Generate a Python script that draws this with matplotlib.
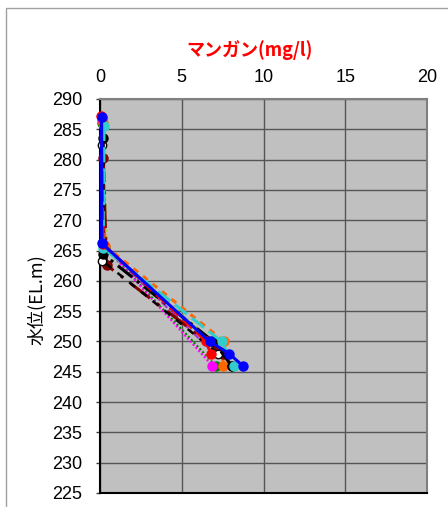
import matplotlib
matplotlib.use("Agg")
import matplotlib.pyplot as plt
from matplotlib.patches import Rectangle

plt.rcParams['font.family'] = ['Liberation Sans', 'Noto Sans CJK JP', 'DejaVu Sans']

# Manganese concentration profiles: (water level EL.m, mg/l)
series_levels = {
    "yellowgrn": [286.0, 265.5, 249.0],
    "purple":    [286.2, 265.7, 248.0],
    "green":     [286.0, 265.6, 246.0],
    "magenta":   [286.5, 265.9, 246.0],
    "orange":    [286.0, 265.8, 250.0, 246.0],
    "darkred":   [280.3, 262.6, 248.0, 246.0],
    "white":     [282.4, 263.3, 248.0],
    "black":     [283.5, 264.4, 250.0, 246.0],
    "cyan":      [285.6, 265.4, 250.0, 246.0],
    "red":       [287.2, 266.0, 250.0, 248.0],
    "blue":      [287.0, 266.2, 250.0, 248.0, 246.0],
}
series_values = {
    "yellowgrn": [0.20, 0.40, 7.30],
    "purple":    [0.15, 0.25, 7.00],
    "green":     [0.15, 0.30, 7.07],
    "magenta":   [0.10, 0.20, 6.87],
    "orange":    [0.20, 0.30, 7.60, 7.50],
    "darkred":   [0.20, 0.40, 7.50, 8.05],
    "white":     [0.15, 0.15, 7.24],
    "black":     [0.20, 0.20, 6.93, 8.05],
    "cyan":      [0.25, 0.20, 7.44, 8.20],
    "red":       [0.05, 0.20, 6.50, 6.77],
    "blue":      [0.10, 0.10, 6.70, 7.90, 8.72],
}

styles = {
    "blue":      dict(color="#0000ff", mfc="#0000ff", mec="#0000ff", ls="-", lw=2.2, ms=6.5),
    "red":       dict(color="#ff0000", mfc="#ff0000", mec="#ff0000", ls=(0, (4, 2)), lw=2.2, ms=6.5),
    "black":     dict(color="#000000", mfc="#000000", mec="#000000", ls=(0, (6, 2, 1, 2)), lw=2.2, ms=6.5),
    "white":     dict(color="#000000", mfc="#ffffff", mec="#000000", ls=(0, (3, 3)), lw=1.8, ms=6.0),
    "darkred":   dict(color="#800000", mfc="#800000", mec="#800000", ls=(0, (8, 3, 1, 3)), lw=2.2, ms=6.5),
    "cyan":      dict(color="#33cccc", mfc="#33cccc", mec="#33cccc", ls=(0, (5, 2)), lw=2.2, ms=6.5),
    "orange":    dict(color="#ff6600", mfc="#ff6600", mec="#ff6600", ls=(0, (2, 2)), lw=2.2, ms=6.5),
    "magenta":   dict(color="#ff00ff", mfc="#ff00ff", mec="#ff00ff", ls=(0, (1, 1)), lw=1.5, ms=6.5),
    "green":     dict(color="#008000", mfc="#008000", mec="#008000", ls=(0, (1, 1)), lw=1.5, ms=6.5),
    "purple":    dict(color="#9933cc", mfc="#9933cc", mec="#9933cc", ls=(0, (4, 1, 1, 1)), lw=1.5, ms=2.5),
    "yellowgrn": dict(color="#99cc00", mfc="#99cc00", mec="#99cc00", ls=(0, (1, 2)), lw=1.5, ms=2.5),
}

x_ticks = [0, 5, 10, 15, 20]
y_ticks = list(range(225, 291, 5))

fig = plt.figure(figsize=(4.48, 5.07), dpi=100)
W, H = 448, 507

# outer chart-area border
fig.patches.append(Rectangle((6 / W, -0.1), 1.2, (507 - 8) / H + 0.1,
                             transform=fig.transFigure, fill=False,
                             edgecolor="#a0a0a0", lw=1.0))

ax = fig.add_axes([100 / W, 14 / H, 327 / W, 394 / H])
ax.set_facecolor("#c0c0c0")

for name in series_levels:
    st = styles[name]
    ax.plot(series_values[name], series_levels[name], color=st["color"],
            ls=st["ls"], lw=st["lw"], marker="o", markersize=st["ms"],
            markerfacecolor=st["mfc"], markeredgecolor=st["mec"],
            markeredgewidth=1.0, clip_on=False, zorder=3)

ax.set_xlim(0, 20)
ax.set_ylim(225, 290)
ax.set_xticks(x_ticks)
ax.set_yticks(y_ticks)
ax.xaxis.tick_top()
ax.tick_params(axis="x", length=0, pad=9, labelsize=13)
ax.tick_params(axis="y", length=3, width=1, color="#404040", direction="out",
               pad=10, labelsize=13)
ax.grid(True, color="#555555", lw=1.0)
ax.set_axisbelow(True)

for side in ("left", "bottom"):
    ax.spines[side].set_color("#000000")
    ax.spines[side].set_linewidth(1.5)
for side in ("top", "right"):
    ax.spines[side].set_color("#808080")
    ax.spines[side].set_linewidth(1.5)

fig.text(250 / W, 1 - 50 / H, "マンガン(mg/l)", color="#ff0000",
         fontsize=13, fontweight="bold", ha="center", va="center",
         family=["Noto Sans CJK JP", "DejaVu Sans"])
fig.text(37 / W, 1 - 300 / H, "水位(EL.m)", rotation=90, fontsize=13,
         ha="center", va="center", family=["Noto Sans CJK JP", "DejaVu Sans"])

fig.savefig("out.png", dpi=100)
